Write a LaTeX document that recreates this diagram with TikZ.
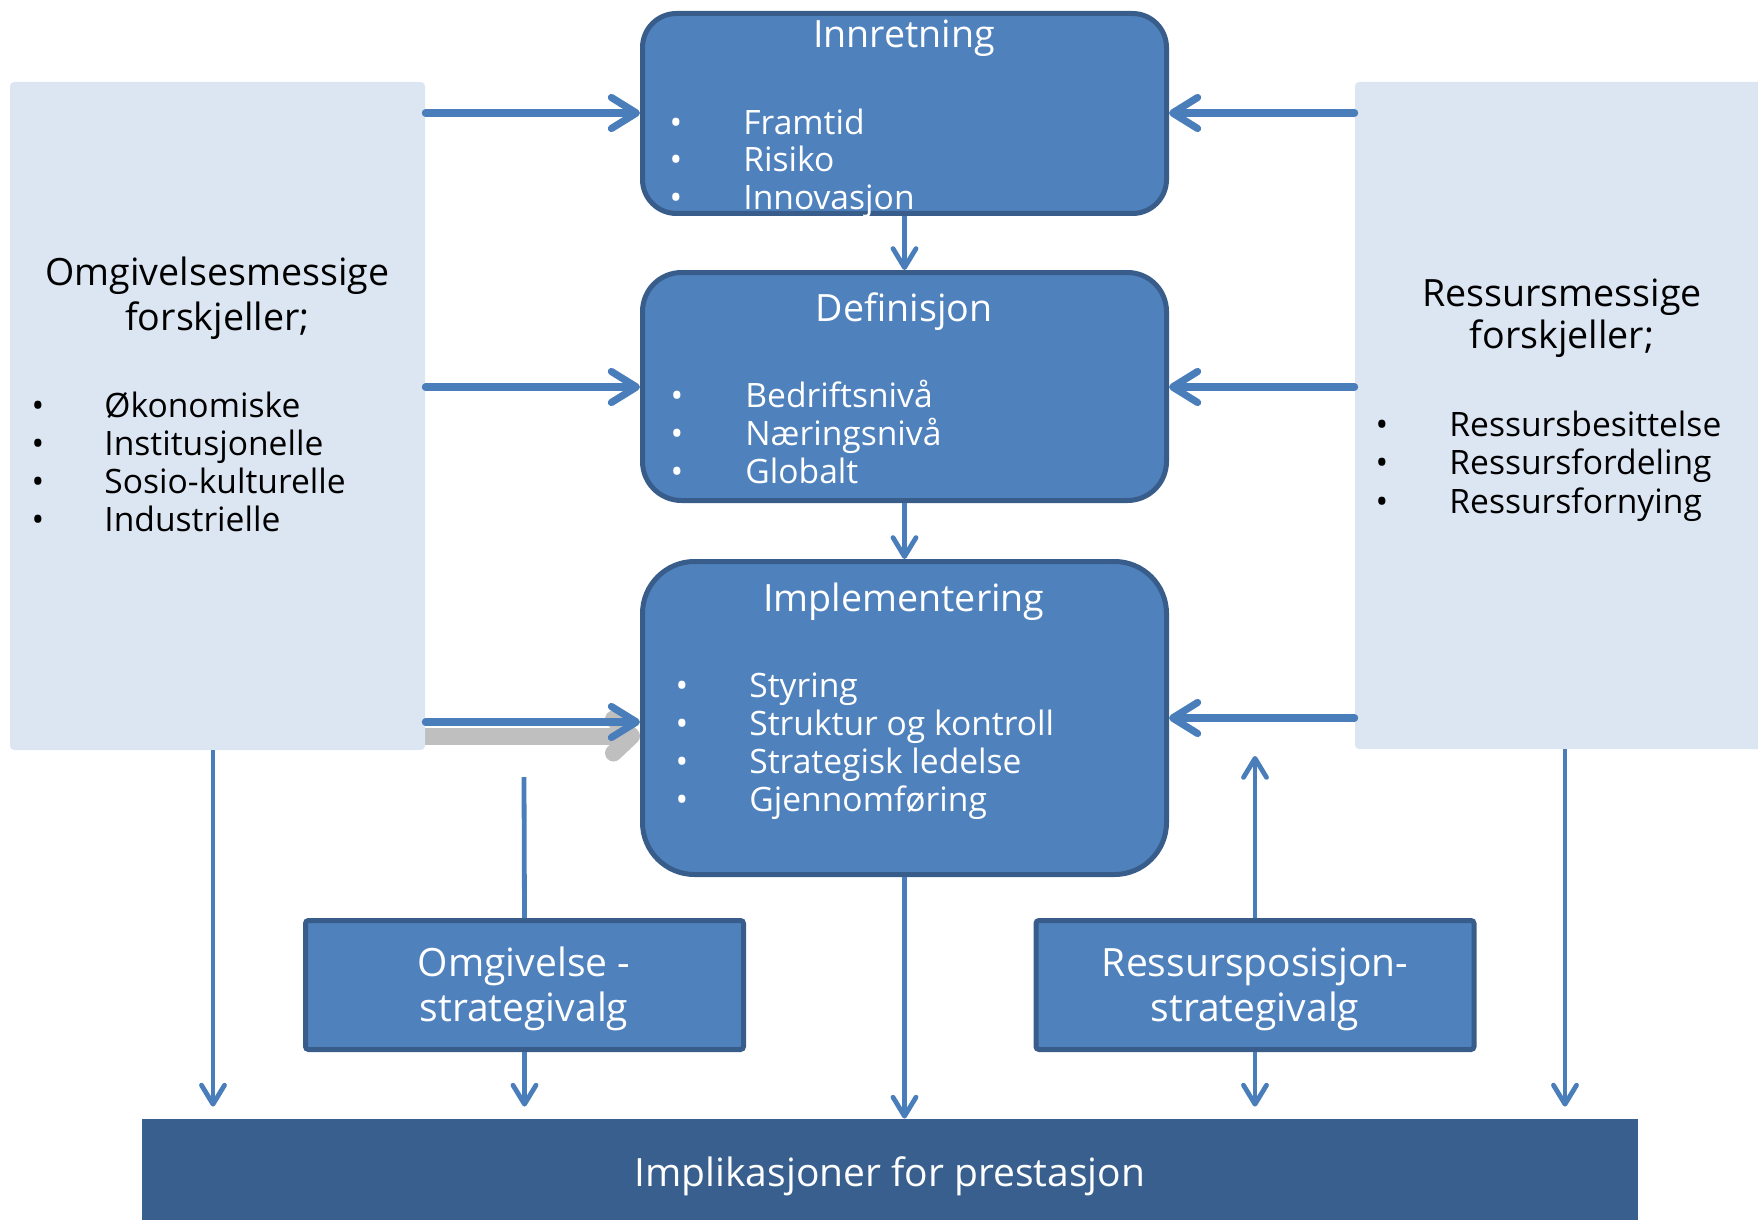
\documentclass[tikz,border=0pt]{standalone}
\usepackage{fontspec}
\setmainfont{Open Sans}
\usetikzlibrary{arrows.meta}
\pgfdeclarelayer{background}
\pgfsetlayers{background,main}
\definecolor{boxfill}{HTML}{4F81BD}
\definecolor{boxline}{HTML}{385D8A}
\definecolor{panel}{HTML}{DCE6F2}
\definecolor{basefill}{HTML}{385F8E}
\definecolor{arrowblue}{HTML}{4A7EBB}
\definecolor{shadowgray}{HTML}{BFBFBF}
\tikzset{
  stage/.style={draw=boxline, fill=boxfill, line width=2.5pt, inner sep=0pt},
  choice/.style={draw=boxline, fill=boxfill, line width=2.5pt, inner sep=0pt, rounded corners=1.5pt},
  sidepanel/.style={fill=panel, inner sep=0pt, rounded corners=2pt},
  basebox/.style={fill=basefill, inner sep=0pt},
  txt/.style={inner sep=0pt, yshift=-4pt},
  ttl/.style={txt, font=\fontsize{18.8}{21}\selectfont},
  itm/.style={txt, font=\fontsize{16.8}{19}\selectfont},
  big/.style={txt, font=\fontsize{19.5}{22}\selectfont},
  white/.style={text=white},
  harrow/.style={draw=arrowblue, line width=3.6pt, line cap=round,
    -{Straight Barb[length=12.5pt, width=15.5pt, line width=3.6pt, round]}},
  varrow/.style={draw=arrowblue, line width=2.4pt,
    -{Straight Barb[length=9.5pt, width=11.5pt, line width=2.4pt, round]}},
  vline/.style={draw=arrowblue, line width=2.4pt}
}
\begin{document}
\begin{tikzpicture}[x=0.5pt, y=-0.5pt]
\useasboundingbox (0,0) rectangle (1758,1220);

% side panels and the base bar
\node[sidepanel, minimum width=207.5pt, minimum height=334pt] (L) at (217.5,416) {};
\node[sidepanel, minimum width=205pt, minimum height=333.5pt] (RP) at (1560,415.5) {};
\node[basebox, minimum width=748pt, minimum height=52pt] (B) at (890,1171) {};

% the three stages
\node[stage, rounded corners=17pt, minimum width=262pt, minimum height=100pt] (I) at (904.5,113.5) {};
\node[stage, rounded corners=19.5pt, minimum width=262pt, minimum height=114pt] (D) at (904.5,386.5) {};
\node[stage, rounded corners=26pt, minimum width=262pt, minimum height=156.5pt] (M) at (904.5,718) {};

% strategy choice boxes
\node[choice, minimum width=219pt, minimum height=64.5pt] (O) at (524.5,985) {};
\node[choice, minimum width=219pt, minimum height=64.5pt] (R) at (1255,985) {};

% texts of the stages
\node[ttl, white, anchor=mid] (It) at (904,34) {Innretning};
\node[itm, white, anchor=mid] (Ib1) at (676,121) {•};
\node[itm, white, anchor=mid] (Ib2) at (676,158) {•};
\node[itm, white, anchor=mid] (Ib3) at (676,196) {•};
\node[itm, white, anchor=mid west] (I1) at (743,121) {Framtid};
\node[itm, white, anchor=mid west] (I2) at (743,158) {Risiko};
\node[itm, white, anchor=mid west] (I3) at (743,196) {Innovasjon};

\node[ttl, white, anchor=mid] (Dt) at (904,308) {Definisjon};
\node[itm, white, anchor=mid] (Db1) at (677,394) {•};
\node[itm, white, anchor=mid] (Db2) at (677,432) {•};
\node[itm, white, anchor=mid] (Db3) at (677,470) {•};
\node[itm, white, anchor=mid west] (D1) at (745,394) {Bedriftsnivå};
\node[itm, white, anchor=mid west] (D2) at (745,432) {Næringsnivå};
\node[itm, white, anchor=mid west] (D3) at (745,470) {Globalt};

\node[ttl, white, anchor=mid] (Mt) at (904,598) {Implementering};
\node[itm, white, anchor=mid] (Mb1) at (682,684) {•};
\node[itm, white, anchor=mid] (Mb2) at (682,722) {•};
\node[itm, white, anchor=mid] (Mb3) at (682,760) {•};
\node[itm, white, anchor=mid] (Mb4) at (682,798) {•};
\node[itm, white, anchor=mid west] (M1) at (749,684) {Styring};
\node[itm, white, anchor=mid west] (M2) at (749,722) {Struktur og kontroll};
\node[itm, white, anchor=mid west] (M3) at (749,760) {Strategisk ledelse};
\node[itm, white, anchor=mid west] (M4) at (749,798) {Gjennomføring};

% texts of the side panels
\node[ttl, anchor=mid] (Lt1) at (217.5,272) {Omgivelsesmessige};
\node[ttl, anchor=mid] (Lt2) at (217.5,317) {forskjeller;};
\node[itm, anchor=mid] (Lb1) at (38,404) {•};
\node[itm, anchor=mid] (Lb2) at (38,442) {•};
\node[itm, anchor=mid] (Lb3) at (38,480) {•};
\node[itm, anchor=mid] (Lb4) at (38,518) {•};
\node[itm, anchor=mid west] (L1) at (104,404) {Økonomiske};
\node[itm, anchor=mid west] (L2) at (104,442) {Institusjonelle};
\node[itm, anchor=mid west] (L3) at (104,480) {Sosio-kulturelle};
\node[itm, anchor=mid west] (L4) at (104,518) {Industrielle};

\node[ttl, anchor=mid] (Rt1) at (1562,293) {Ressursmessige};
\node[ttl, anchor=mid] (Rt2) at (1562,335) {forskjeller;};
\node[itm, anchor=mid] (Rb1) at (1382,423) {•};
\node[itm, anchor=mid] (Rb2) at (1382,461) {•};
\node[itm, anchor=mid] (Rb3) at (1382,500) {•};
\node[itm, anchor=mid west] (R1) at (1449,423) {Ressursbesittelse};
\node[itm, anchor=mid west] (R2) at (1449,461) {Ressursfordeling};
\node[itm, anchor=mid west] (R3) at (1449,500) {Ressursfornying};

% texts of the choice boxes and the base bar
\node[big, white, anchor=mid] (Ot1) at (524,963) {Omgivelse -};
\node[big, white, anchor=mid] (Ot2) at (524,1008) {strategivalg};
\node[big, white, anchor=mid] (Rs1) at (1255,963) {Ressursposisjon-};
\node[big, white, anchor=mid] (Rs2) at (1255,1008) {strategivalg};
\node[big, white, anchor=mid] (Bt) at (890,1173) {Implikasjoner for prestasjon};

% row and column positions of the connectors
\coordinate (ya) at (0,113);
\coordinate (yb) at (0,387);
\coordinate (ycl) at (0,722);
\coordinate (ycr) at (0,718);
\coordinate (xl) at (213,0);
\coordinate (xr) at (1565,0);
\coordinate (Otop) at (524,777);
\coordinate (Rtop) at (1255,756);

% grey shadow behind the lowest left arrow
\begin{pgfonlayer}{background}
\draw[shadowgray, line width=8.5pt,
  -{Straight Barb[length=9pt, width=17pt, line width=8.5pt, round]}]
  (L.east |- 0,736) -- (M.west |- 0,736);
\end{pgfonlayer}

% horizontal connectors from the panels
\draw[harrow] (L.east |- ya) -- (I.west |- ya);
\draw[harrow] (L.east |- yb) -- (D.west |- yb);
\draw[harrow] (L.east |- ycl) -- (M.west |- ycl);
\draw[harrow] (RP.west |- ya) -- (I.east |- ya);
\draw[harrow] (RP.west |- yb) -- (D.east |- yb);
\draw[harrow] (RP.west |- ycr) -- (M.east |- ycr);

% vertical connectors
\draw[varrow] (I.south) -- (D.north);
\draw[varrow] (D.south) -- (M.north);
\draw[varrow] (M.south) -- (M.south |- B.north);
\draw[varrow, shorten >=6pt] (L.south -| xl) -- (B.north -| xl);
\draw[varrow, shorten >=6pt] (RP.south -| xr) -- (B.north -| xr);
\draw[vline] (O.north) -- (Otop);
\draw[varrow, shorten >=6pt] (O.south) -- (B.north -| O.south);
\draw[varrow] (R.north) -- (Rtop);
\draw[varrow, shorten >=6pt] (R.south) -- (B.north -| R.south);
\end{tikzpicture}
\end{document}
